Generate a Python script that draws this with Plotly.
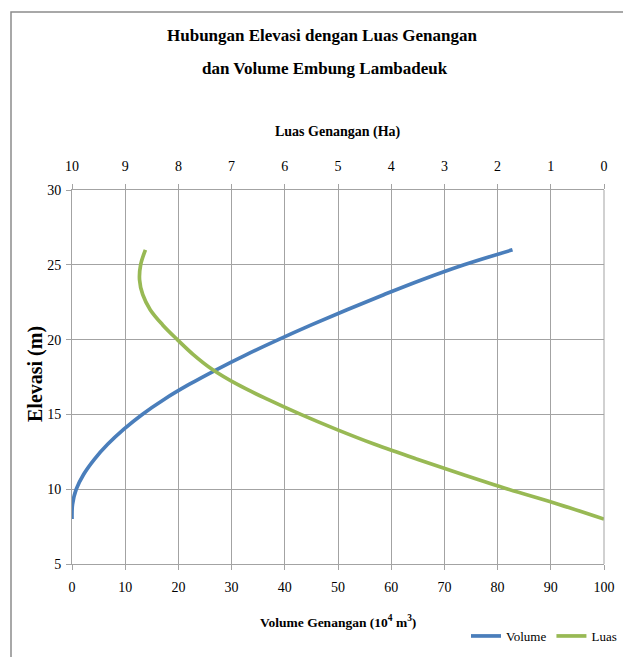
import plotly.graph_objects as go

# Data
elevasi = [8, 9, 10, 11, 12, 13, 14, 15, 16, 17, 18, 19, 20, 21, 22, 23, 24, 25, 26]
volume = [0, 0.1, 0.8, 2.2, 4.2, 6.7, 9.7, 13.2, 17.3, 22.0, 27.2, 32.8, 38.8, 45.1, 51.7, 58.6, 65.8, 73.7, 82.8]
luas = [0, 0.86, 1.80, 2.67, 3.51, 4.31, 5.03, 5.70, 6.32, 6.89, 7.36, 7.72, 8.02, 8.30, 8.53, 8.67, 8.73, 8.71, 8.62]

vol_ticks = list(range(0, 101, 10))
luas_ticks = list(range(0, 11, 1))
elev_ticks = list(range(5, 31, 5))

FONT = "Liberation Serif"
GRID = "#a3a3a3"

fig = go.Figure()
fig.add_trace(go.Scatter(x=volume, y=elevasi, name="Volume", mode="lines",
                         line=dict(color="#4a7ebb", width=3.7, shape="spline"),
                         xaxis="x", yaxis="y"))
fig.add_trace(go.Scatter(x=luas, y=elevasi, name="Luas", mode="lines",
                         line=dict(color="#98b954", width=3.7, shape="spline"),
                         xaxis="x2", yaxis="y"))

W, H = 623, 657
L, R, T, B = 72, 19, 190, 93
pw, ph = W - L - R, H - T - B


def px(x):
    return (x - L) / pw


def py(y):
    return (H - B - y) / ph


fig.update_layout(
    width=W, height=H,
    margin=dict(l=L, r=R, t=T, b=B, autoexpand=False),
    paper_bgcolor="white", plot_bgcolor="white",
    font=dict(family=FONT, size=14, color="black"),
    showlegend=True,
    legend=dict(orientation="h", xref="container", yref="container",
                x=622 / W, xanchor="right", y=1 - 636 / H, yanchor="middle",
                font=dict(family=FONT, size=13), bgcolor="rgba(0,0,0,0)",
                itemwidth=30, tracegroupgap=0),
    xaxis=dict(range=[0, 100], tickvals=vol_ticks, showgrid=True, gridcolor=GRID, gridwidth=1,
               showline=True, linecolor=GRID, linewidth=1, automargin=False,
               ticks="outside", ticklen=5, tickcolor=GRID, zeroline=False,
               ticklabelstandoff=5, tickfont=dict(family=FONT, size=14)),
    xaxis2=dict(range=[10, 0], tickvals=luas_ticks, overlaying="x", side="top", anchor="y",
                showgrid=False, showline=True, linecolor=GRID, linewidth=1, automargin=False,
                ticks="outside", ticklen=5, tickcolor=GRID, zeroline=False,
                ticklabelstandoff=7, tickfont=dict(family=FONT, size=14)),
    yaxis=dict(range=[5, 30], tickvals=elev_ticks, showgrid=True, gridcolor=GRID, gridwidth=1,
               showline=True, linecolor=GRID, linewidth=1, automargin=False,
               ticks="outside", ticklen=5, tickcolor=GRID, zeroline=False,
               ticklabelstandoff=2, tickfont=dict(family=FONT, size=14)),
)

# right frame line of the plot area
fig.add_shape(type="line", xref="paper", yref="paper", x0=1, x1=1, y0=0, y1=1,
              line=dict(color=GRID, width=1))

# outer chart border
fig.add_shape(type="rect", xref="paper", yref="paper",
              x0=px(11), x1=px(640), y0=py(12), y1=py(680),
              line=dict(color="#8c8c8c", width=1.5), layer="below")

ann = [
    dict(text="<b>Hubungan Elevasi dengan Luas Genangan</b>", x=px(322), y=py(36), size=17),
    dict(text="<b>dan Volume Embung Lambadeuk</b>", x=px(325), y=py(68), size=17),
    dict(text="<b>Luas Genangan (Ha)</b>", x=0.5, y=py(132), size=14),
    dict(text="<b>Volume Genangan (10<sup>4</sup> m<sup>3</sup>)</b>", x=0.5, y=py(621), size=13.5),
]
for a in ann:
    fig.add_annotation(text=a["text"], x=a["x"], y=a["y"], xref="paper", yref="paper",
                       xanchor="center", yanchor="middle", showarrow=False,
                       font=dict(family=FONT, size=a["size"], color="black"))

fig.add_annotation(text="<b>Elevasi (m)</b>", x=px(35), y=py(374), xref="paper", yref="paper",
                   xanchor="center", yanchor="middle", showarrow=False, textangle=-90,
                   font=dict(family=FONT, size=20, color="black"))

fig.write_html("out.html", config={"displayModeBar": False},
               post_script="document.body.style.margin='0';document.body.style.overflow='hidden';")
